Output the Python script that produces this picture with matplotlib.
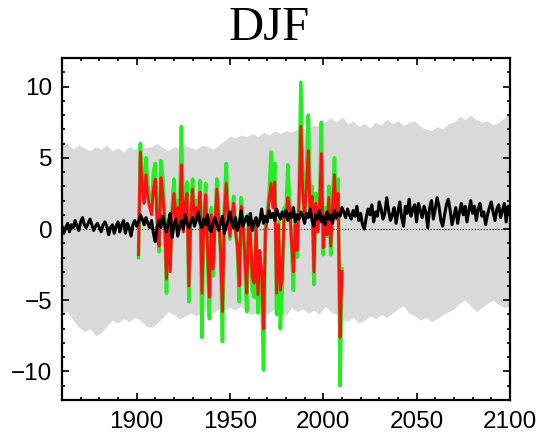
import numpy as np
import matplotlib
matplotlib.use("Agg")
import matplotlib.pyplot as plt
from matplotlib.ticker import MultipleLocator

# spread of the model ensemble (every 3 years, 1860-2100)
band_years = np.arange(1860, 2101, 3)
band_upper = [6.2, 6.0, 5.6, 5.9, 5.7, 5.5, 5.8, 5.6, 5.9, 5.5,
              5.7, 5.4, 5.8, 5.6, 5.9, 5.7, 5.8, 6.0, 5.7, 5.5,
              5.8, 5.6, 5.9, 5.7, 5.6, 5.9, 5.8, 5.6, 5.9, 6.2,
              6.5, 6.4, 6.6, 6.5, 6.7, 6.5, 6.8, 6.6, 6.9, 6.7,
              6.9, 6.8, 7.0, 7.1, 7.0, 7.3, 7.2, 7.5, 7.8, 7.5,
              7.9, 7.4, 7.6, 7.2, 7.4, 7.1, 7.5, 7.3, 7.7, 7.4,
              7.6, 7.3, 7.5, 7.6, 7.2, 7.0, 6.9, 7.2, 7.0, 7.4,
              7.5, 7.9, 7.7, 8.0, 7.7, 7.5, 7.6, 7.3, 7.5, 7.8,
              8.3]
band_lower = [-6.0, -5.8, -6.4, -6.9, -7.2, -7.0, -7.5, -7.3, -6.8, -6.4,
              -6.6, -6.3, -6.5, -6.2, -6.4, -6.8, -6.9, -6.6, -6.2, -5.8,
              -6.0, -6.3, -6.1, -5.9, -6.1, -5.8, -5.7, -5.9, -5.6, -5.7,
              -5.5, -5.7, -5.4, -5.9, -6.0, -5.8, -6.1, -5.9, -5.6, -5.8,
              -6.1, -5.5, -5.8, -5.6, -5.9, -5.7, -6.0, -5.4, -5.8, -6.0,
              -6.3, -6.5, -6.2, -6.6, -6.4, -6.1, -6.3, -6.0, -6.2, -5.9,
              -5.6, -5.4, -5.9, -6.1, -6.4, -6.2, -6.5, -6.3, -6.0, -5.8,
              -5.6, -5.2, -5.0, -5.4, -5.8, -5.5, -5.2, -5.0, -5.3, -5.5,
              -5.4]

# ensemble mean, 1860-2100
mean_years = np.arange(1860, 2101)
mean_vals = [0.2, -0.3, 0.1, 0.4, -0.2, 0.3, 0.1, 0.6, 0.2, -0.1,
             0.5, 0.8, 0.3, 0.1, 0.4, 0.7, 0.3, -0.1, 0.2, 0.4,
             0.1, -0.2, 0.3, 0.5, 0.2, -0.4, 0.1, 0.3, -0.3, 0.2,
             0.5, -0.2, 0.3, 0.6, -0.3, 0.4, 0.1, -0.5, 0.3, 0.6,
             0.2, 0.5, 1.0, 0.7, 0.3, 0.8, 0.4, 0.1, 0.6, -0.3,
             -0.9, 0.2, 0.6, 0.1, 0.9, 0.3, -0.2, 0.5, 1.1, -0.6,
             0.3, 0.7, -0.5, 0.2, 0.6, 0.0, 1.0, 0.4, 0.1, 0.5,
             0.8, 0.2, 0.6, 1.2, 0.4, 0.1, 0.7, 0.3, 1.0, 0.0,
             -0.2, 0.5, 0.8, 0.3, -0.1, 0.4, 0.9, -0.3, 0.2, 0.6,
             1.2, 0.5, 0.1, 0.8, -0.1, 0.4, 1.3, 0.2, 0.6, 0.9,
             0.3, 1.1, -0.1, 0.5, 0.8, 0.2, 0.6, 1.4, 0.4, 0.9,
             0.5, 1.3, 0.8, 1.1, 0.6, 1.4, 1.0, 0.7, 1.2, 0.9,
             1.3, 0.6, 1.1, 0.8, 1.5, 0.5, 1.0, 0.7, 1.2, 0.9,
             0.4, 1.1, 0.8, 1.4, 0.6, 0.2, 1.0, 0.7, 1.3, 0.5,
             0.9, 0.3, 1.2, 0.7, 1.0, 0.4, 1.3, 0.8, 1.1, 0.9,
             1.5, 1.2, 0.8, 1.4, 1.0, 0.7, 1.3, 0.9, 1.6, 0.6,
             1.1, 0.3, 0.0, 0.8, 1.4, 1.0, 1.7, 0.5, 1.2, 0.9,
             1.9, 1.4, 0.7, 1.1, 2.2, 1.3, 0.6, 1.0, 1.5, 0.4,
             1.2, 1.9, 0.8, 0.2, 1.6, 1.1, 2.1, 0.9, 1.4, 1.7,
             0.5, 1.8, 1.3, 0.8, 1.6, 1.2, 0.1, 1.5, 2.0, 0.7,
             1.4, 2.2, 1.6, 0.6, 0.2, 1.0, 1.7, 2.1, 1.3, 0.3,
             0.9, 1.5, 0.4, 1.2, 1.8, 1.0, 1.6, 0.5, 1.3, 2.0,
             1.1, 1.6, 0.6, 1.4, 1.8, 0.9, 1.2, 0.3, 1.0, 1.5,
             1.9, 1.2, 0.6, 1.4, 1.7, 0.8, 1.3, 1.8, 0.5, 1.6, 1.1]

# observations, 1901-2010
obs_years = np.arange(1901, 2011)
obs_green = [-2.0, 6.0, 3.5, 2.5, 5.0, 3.0, 2.0, 1.5, 4.0, 4.6,
             1.0, -1.6, 4.8, 3.6, 1.0, -4.5, 0.5, -2.5, 1.5, 3.5,
             1.0, 2.0, 0.5, 7.2, 0.0, 2.5, 3.3, -5.1, 1.5, 3.5,
             0.5, 2.0, 1.0, 3.4, -7.6, 1.0, 3.2, -2.0, -6.3, 1.5,
             -3.3, 0.5, 3.5, 1.0, -2.0, -7.9, 1.5, 4.6, 1.0, -0.7,
             1.0, 2.3, 0.0, -1.5, -5.1, 2.2, 0.5, -2.6, -5.8, 1.0,
             -0.5, -4.3, -4.8, 0.5, -5.9, -2.0, -4.0, -9.9, 0.0, 1.0,
             2.5, 5.4, 2.0, 4.6, -6.0, 0.5, -7.0, -4.3, 1.5, 1.0,
             4.5, 2.0, -1.0, -4.3, 0.5, -2.0, 2.5, 10.3, 3.0, 1.0,
             4.5, 8.0, 1.5, 3.0, -3.9, 2.5, 0.0, 2.0, 7.5, -1.8,
             1.5, -0.5, 3.0, -1.8, 2.0, 5.0, 1.0, 3.5, -11.0, -2.8]
obs_red = [-1.8, 5.4, 2.8, 1.8, 3.8, 2.2, 1.5, 1.0, 2.8, 3.5,
           0.5, -1.2, 3.6, 2.5, 0.5, -3.5, 0.2, -3.0, 1.0, 2.5,
           0.8, 1.5, 0.3, 4.5, -0.2, 1.8, 2.5, -4.0, 1.0, 2.8,
           0.3, 1.5, 0.8, 2.6, -4.5, 0.6, 2.4, -1.5, -4.8, 1.0,
           -2.8, 0.3, 2.8, 0.7, -1.5, -5.8, 1.0, 3.2, 0.7, -0.5,
           0.7, 1.8, -0.2, -1.2, -4.0, 1.6, 0.3, -2.0, -4.5, 0.7,
           -0.4, -3.4, -3.8, 0.3, -4.6, -1.5, -3.0, -7.0, -0.2, 0.8,
           2.0, 3.2, 1.5, 3.3, -4.5, 0.3, -4.3, -3.5, 1.0, 0.8,
           2.2, 1.5, -0.8, -3.0, 0.3, -1.5, 1.8, 7.2, 2.5, 0.8,
           3.0, 5.5, 1.0, 2.3, -3.0, 1.8, -0.2, 1.5, 5.3, -1.3,
           1.0, -0.4, 2.2, -1.2, 1.5, 3.8, 0.7, 2.5, -7.6, -3.0]

fig = plt.figure(figsize=(5.39, 4.40), dpi=100)
ax = fig.add_axes([0.115, 0.091, 0.831, 0.777])

ax.fill_between(band_years, band_lower, band_upper, color="#d9d9d9", linewidth=0)
ax.axhline(0, color="black", linestyle=":", linewidth=0.8)
ax.plot(obs_years, obs_green, color="#22ee22", linewidth=2.6)
ax.plot(obs_years, obs_red, color="#ff1010", linewidth=2.1)
ax.plot(mean_years, mean_vals, color="black", linewidth=2.2)

ax.set_xlim(1860, 2100)
ax.set_ylim(-12, 12)
ax.xaxis.set_major_locator(MultipleLocator(50))
ax.xaxis.set_minor_locator(MultipleLocator(10))
ax.yaxis.set_major_locator(MultipleLocator(5))
ax.yaxis.set_minor_locator(MultipleLocator(1))
ax.tick_params(which="both", direction="in", top=True, right=True, width=1.2)
ax.tick_params(which="major", length=5)
ax.tick_params(which="minor", length=2.5)
ax.tick_params(axis="x", pad=8)
ax.tick_params(axis="y", pad=7)
for lab in ax.get_xticklabels() + ax.get_yticklabels():
    lab.set_fontfamily("Liberation Sans")
    lab.set_fontsize(17.5)
for sp in ax.spines.values():
    sp.set_linewidth(1.6)

fig.text(0.5, 0.909, "DJF", ha="center", va="baseline",
         fontsize=35, fontfamily="Liberation Serif")

fig.savefig("out.png", dpi=100)
